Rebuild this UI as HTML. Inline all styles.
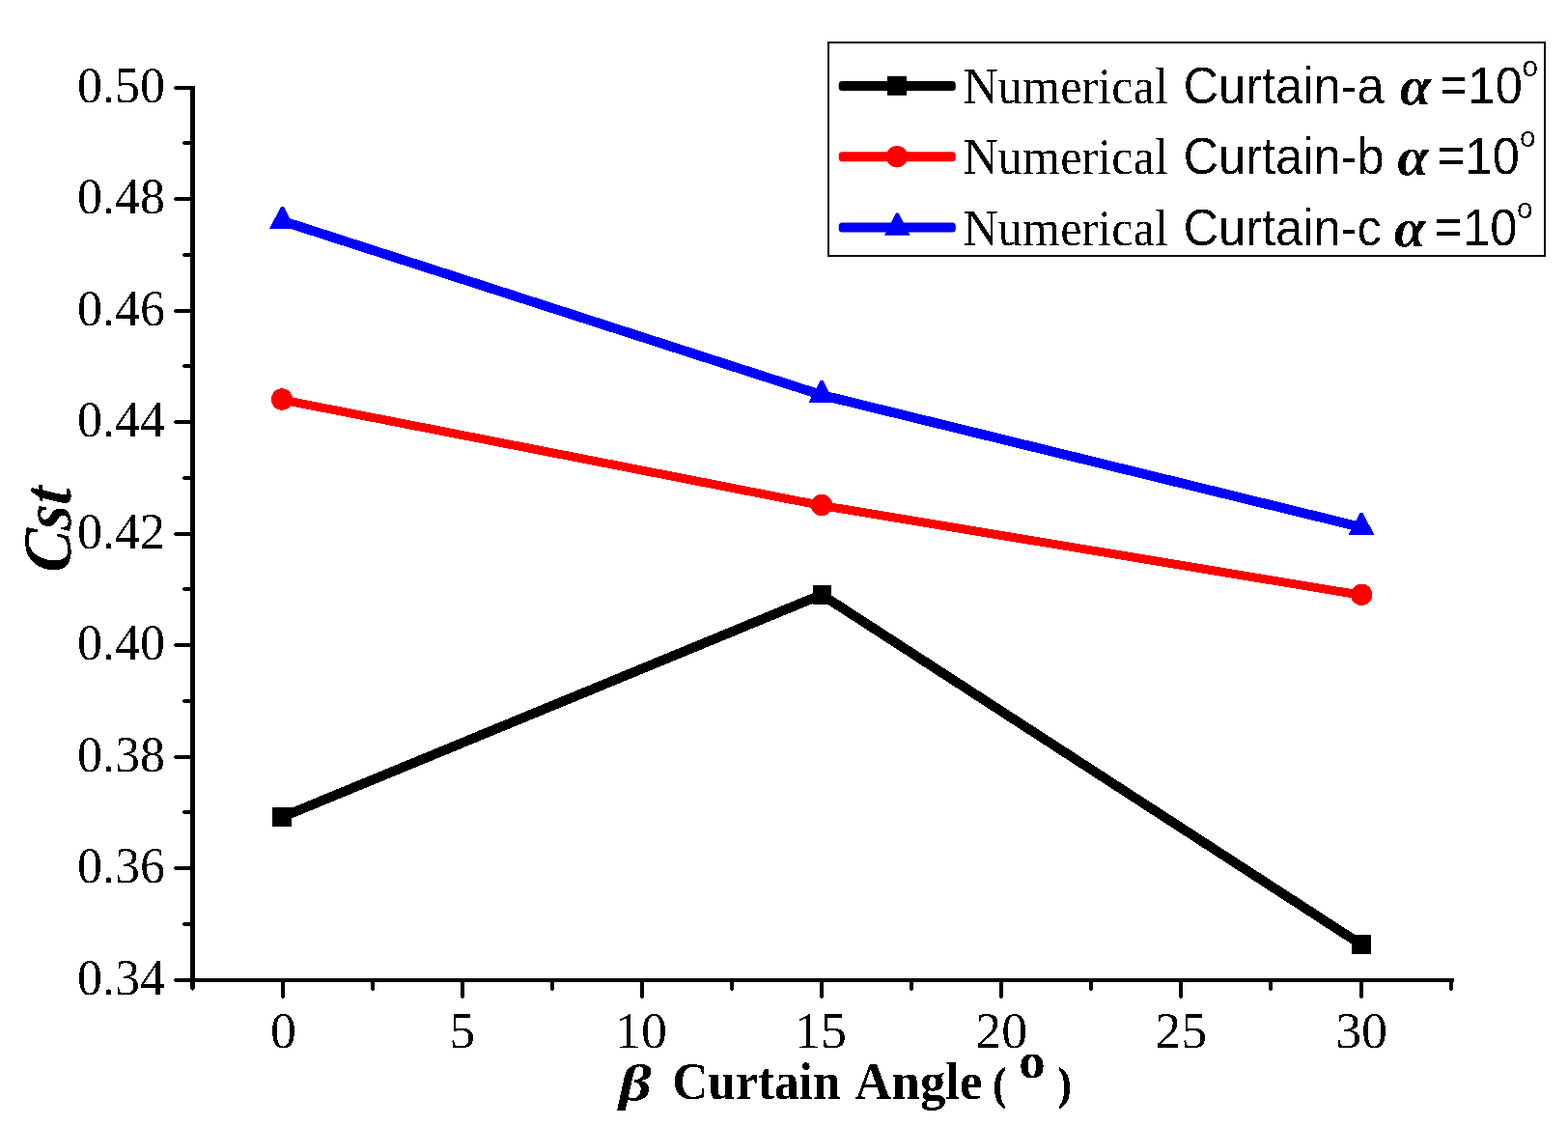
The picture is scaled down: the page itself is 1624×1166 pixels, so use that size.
<!DOCTYPE html>
<html lang="en"><head><meta charset="utf-8"><title>Cst vs Curtain Angle</title>
<style>
html,body{margin:0;padding:0;background:#fff;}
body{width:1624px;height:1166px;overflow:hidden;}
svg{display:block;}
text{fill:#000;}
.ser{font-family:"Liberation Serif","DejaVu Serif",serif;}
.san{font-family:"Liberation Sans","DejaVu Sans",sans-serif;}
</style></head><body>
<svg width="1624" height="1166" viewBox="0 0 1624 1166">
<defs><filter id="bi" filterUnits="userSpaceOnUse" x="0" y="0" width="1624" height="1166" color-interpolation-filters="sRGB"><feComponentTransfer><feFuncA type="discrete" tableValues="0 0 0 0 0 0 0 0 0 0 0 1 1 1 1 1 1 1 1 1"/></feComponentTransfer></filter></defs>
<rect x="0" y="0" width="1624" height="1166" fill="#fff"/>
<g fill="#000" shape-rendering="crispEdges">
<rect x="197" y="89" width="5" height="935"/>
<rect x="198" y="1024" width="3" height="1"/><rect x="199" y="1025" width="1" height="1"/>
<rect x="182" y="1013" width="1323.5" height="4"/>
<rect x="182" y="89" width="16" height="4"/>
<rect x="180" y="90" width="2" height="2"/><rect x="181" y="89" width="1" height="4"/>
<rect x="191" y="146" width="7" height="4"/>
<rect x="189" y="147" width="2" height="2"/><rect x="190" y="146" width="1" height="4"/>
<rect x="182" y="204" width="16" height="4"/>
<rect x="180" y="205" width="2" height="2"/><rect x="181" y="204" width="1" height="4"/>
<rect x="191" y="262" width="7" height="4"/>
<rect x="189" y="263" width="2" height="2"/><rect x="190" y="262" width="1" height="4"/>
<rect x="182" y="320" width="16" height="4"/>
<rect x="180" y="321" width="2" height="2"/><rect x="181" y="320" width="1" height="4"/>
<rect x="191" y="377" width="7" height="4"/>
<rect x="189" y="378" width="2" height="2"/><rect x="190" y="377" width="1" height="4"/>
<rect x="182" y="435" width="16" height="4"/>
<rect x="180" y="436" width="2" height="2"/><rect x="181" y="435" width="1" height="4"/>
<rect x="191" y="493" width="7" height="4"/>
<rect x="189" y="494" width="2" height="2"/><rect x="190" y="493" width="1" height="4"/>
<rect x="182" y="551" width="16" height="4"/>
<rect x="180" y="552" width="2" height="2"/><rect x="181" y="551" width="1" height="4"/>
<rect x="191" y="608" width="7" height="4"/>
<rect x="189" y="609" width="2" height="2"/><rect x="190" y="608" width="1" height="4"/>
<rect x="182" y="666" width="16" height="4"/>
<rect x="180" y="667" width="2" height="2"/><rect x="181" y="666" width="1" height="4"/>
<rect x="191" y="724" width="7" height="4"/>
<rect x="189" y="725" width="2" height="2"/><rect x="190" y="724" width="1" height="4"/>
<rect x="182" y="782" width="16" height="4"/>
<rect x="180" y="783" width="2" height="2"/><rect x="181" y="782" width="1" height="4"/>
<rect x="191" y="839" width="7" height="4"/>
<rect x="189" y="840" width="2" height="2"/><rect x="190" y="839" width="1" height="4"/>
<rect x="182" y="897" width="16" height="4"/>
<rect x="180" y="898" width="2" height="2"/><rect x="181" y="897" width="1" height="4"/>
<rect x="191" y="955" width="7" height="4"/>
<rect x="189" y="956" width="2" height="2"/><rect x="190" y="955" width="1" height="4"/>
<rect x="180" y="1014" width="2" height="2"/><rect x="181" y="1013" width="1" height="4"/>
<rect x="291" y="1015" width="4" height="17"/>
<rect x="291" y="1032" width="4" height="1"/><rect x="292" y="1033" width="2" height="1"/>
<rect x="384" y="1015" width="4" height="9"/>
<rect x="384" y="1024" width="4" height="1"/><rect x="385" y="1025" width="2" height="1"/>
<rect x="477" y="1015" width="4" height="17"/>
<rect x="477" y="1032" width="4" height="1"/><rect x="478" y="1033" width="2" height="1"/>
<rect x="570" y="1015" width="4" height="9"/>
<rect x="570" y="1024" width="4" height="1"/><rect x="571" y="1025" width="2" height="1"/>
<rect x="663" y="1015" width="4" height="17"/>
<rect x="663" y="1032" width="4" height="1"/><rect x="664" y="1033" width="2" height="1"/>
<rect x="756" y="1015" width="4" height="9"/>
<rect x="756" y="1024" width="4" height="1"/><rect x="757" y="1025" width="2" height="1"/>
<rect x="849" y="1015" width="4" height="17"/>
<rect x="849" y="1032" width="4" height="1"/><rect x="850" y="1033" width="2" height="1"/>
<rect x="942" y="1015" width="4" height="9"/>
<rect x="942" y="1024" width="4" height="1"/><rect x="943" y="1025" width="2" height="1"/>
<rect x="1035" y="1015" width="4" height="17"/>
<rect x="1035" y="1032" width="4" height="1"/><rect x="1036" y="1033" width="2" height="1"/>
<rect x="1128" y="1015" width="4" height="9"/>
<rect x="1128" y="1024" width="4" height="1"/><rect x="1129" y="1025" width="2" height="1"/>
<rect x="1221" y="1015" width="4" height="17"/>
<rect x="1221" y="1032" width="4" height="1"/><rect x="1222" y="1033" width="2" height="1"/>
<rect x="1314" y="1015" width="4" height="9"/>
<rect x="1314" y="1024" width="4" height="1"/><rect x="1315" y="1025" width="2" height="1"/>
<rect x="1408" y="1015" width="4" height="17"/>
<rect x="1408" y="1032" width="4" height="1"/><rect x="1409" y="1033" width="2" height="1"/>
<rect x="1501" y="1015" width="4" height="9"/>
<rect x="1501" y="1024" width="4" height="1"/><rect x="1502" y="1025" width="2" height="1"/>
</g>
<g shape-rendering="crispEdges">
<polyline points="292.0,846.2 851.0,615.8 1410.0,978.2" fill="none" stroke="#000000" stroke-width="10" stroke-linejoin="miter"/>
<rect x="282.0" y="836.0" width="20" height="20" fill="#000000"/>
<rect x="842.0" y="605.6" width="19" height="20" fill="#000000"/>
<rect x="1400.0" y="968.0" width="20" height="20" fill="#000000"/>
<polyline points="292.0,414.0 851.0,523.5 1410.0,616.3" fill="none" stroke="#ff0000" stroke-width="9" stroke-linejoin="miter"/>
<circle cx="292.0" cy="413.5" r="11.2" fill="#ff0000"/>
<circle cx="851.0" cy="523.0" r="11.2" fill="#ff0000"/>
<circle cx="1410.1" cy="615.8" r="11.2" fill="#ff0000"/>
<polyline points="292.5,228.9 851.0,409.1 1410.0,546.0" fill="none" stroke="#0000ff" stroke-width="10" stroke-linejoin="miter"/>
<polygon points="291.2,213.7 293.8,213.7 305.9,236.9 279.1,236.9" fill="#0000ff"/>
<polygon points="849.7,393.7 852.3,393.7 864.4,416.9 837.6,416.9" fill="#0000ff"/>
<polygon points="1408.7,530.6 1411.3,530.6 1423.4,553.8 1396.6,553.8" fill="#0000ff"/>
</g>
<rect x="858" y="44" width="741.5" height="220.5" fill="#fff" stroke="#000" stroke-width="2" shape-rendering="crispEdges"/>
<rect x="868.7" y="84.00" width="121.1" height="10" rx="3.5" ry="3.5" fill="#000000"/>
<rect x="919.0" y="78.8" width="20" height="20" fill="#000000"/>
<rect x="868.7" y="157.30" width="121.1" height="10" rx="3.5" ry="3.5" fill="#ff0000"/>
<circle cx="929.0" cy="162.1" r="11.2" fill="#ff0000"/>
<rect x="868.7" y="230.50" width="121.1" height="10" rx="3.5" ry="3.5" fill="#0000ff"/>
<polygon points="928.0,220.5 930.6,220.5 942.7,243.7 915.9,243.7" fill="#0000ff"/>
<g filter="url(#bi)">
<text class="ser" transform="translate(79.92,106) scale(0.9943,1)" font-size="52.40">0.50</text>
<text class="ser" transform="translate(79.92,221) scale(0.9943,1)" font-size="52.40">0.48</text>
<text class="ser" transform="translate(79.92,337) scale(0.9943,1)" font-size="52.40">0.46</text>
<text class="ser" transform="translate(79.92,452) scale(0.9943,1)" font-size="52.40">0.44</text>
<text class="ser" transform="translate(79.92,568) scale(0.9943,1)" font-size="52.40">0.42</text>
<text class="ser" transform="translate(79.92,683) scale(0.9943,1)" font-size="52.40">0.40</text>
<text class="ser" transform="translate(79.92,799) scale(0.9943,1)" font-size="52.40">0.38</text>
<text class="ser" transform="translate(79.92,914) scale(0.9943,1)" font-size="52.40">0.36</text>
<text class="ser" transform="translate(79.92,1030) scale(0.9943,1)" font-size="52.40">0.34</text>
<text class="ser" transform="translate(279.90,1085) scale(1.0305,1)" font-size="52.40">0</text>
<text class="ser" transform="translate(465.36,1085) scale(1.0305,1)" font-size="52.40">5</text>
<text class="ser" transform="translate(637.05,1085) scale(1.0305,1)" font-size="52.40">10</text>
<text class="ser" transform="translate(823.05,1085) scale(1.0305,1)" font-size="52.40">15</text>
<text class="ser" transform="translate(1010.27,1085) scale(1.0305,1)" font-size="52.40">20</text>
<text class="ser" transform="translate(1196.27,1085) scale(1.0305,1)" font-size="52.40">25</text>
<text class="ser" transform="translate(1383.13,1085) scale(1.0305,1)" font-size="52.40">30</text>
<text class="ser" transform="translate(997.49,107) scale(0.9685,1)" font-size="52.00">Numerical</text>
<text class="san" transform="translate(1225.47,107) scale(0.9493,1)" font-size="53.30">Curtain-a</text>
<text class="ser" transform="translate(1449.72,108) scale(1.0389,1)" font-size="56.50" font-weight="bold" font-style="italic">α</text>
<text class="san" transform="translate(1491.82,106) scale(0.9049,1)" font-size="51.50" stroke="#000" stroke-width="1.1">=</text>
<text class="san" transform="translate(1520.61,107) scale(0.9602,1)" font-size="52.70">10</text>
<text class="san" transform="translate(1576.56,79) scale(1.0171,1)" font-size="29.30">o</text>
<text class="ser" transform="translate(997.49,180) scale(0.9685,1)" font-size="52.00">Numerical</text>
<text class="san" transform="translate(1225.47,180) scale(0.9493,1)" font-size="53.30">Curtain-b</text>
<text class="ser" transform="translate(1447.22,181) scale(1.0389,1)" font-size="56.50" font-weight="bold" font-style="italic">α</text>
<text class="san" transform="translate(1489.57,179) scale(0.9049,1)" font-size="51.50" stroke="#000" stroke-width="1.1">=</text>
<text class="san" transform="translate(1517.51,180) scale(0.9602,1)" font-size="52.70">10</text>
<text class="san" transform="translate(1574.06,152) scale(1.0171,1)" font-size="29.30">o</text>
<text class="ser" transform="translate(997.49,254) scale(0.9685,1)" font-size="52.00">Numerical</text>
<text class="san" transform="translate(1225.47,254) scale(0.9493,1)" font-size="53.30">Curtain-c</text>
<text class="ser" transform="translate(1444.12,255) scale(1.0389,1)" font-size="56.50" font-weight="bold" font-style="italic">α</text>
<text class="san" transform="translate(1486.57,253) scale(0.9049,1)" font-size="51.50" stroke="#000" stroke-width="1.1">=</text>
<text class="san" transform="translate(1515.01,254) scale(0.9602,1)" font-size="52.70">10</text>
<text class="san" transform="translate(1571.06,226) scale(1.0171,1)" font-size="29.30">o</text>
<text class="ser" transform="translate(640.89,1139) scale(1.2403,1)" font-size="53.50" font-weight="bold" font-style="italic">β</text>
<text class="ser" transform="translate(696.23,1138) scale(0.9454,1)" font-size="54.40" font-weight="bold">Curtain</text>
<text class="ser" transform="translate(885.37,1138) scale(0.9721,1)" font-size="54.40" font-weight="bold">Angle</text>
<text class="ser" transform="translate(1028.74,1138) scale(0.8525,1)" font-size="46.00" font-weight="bold" stroke="#000" stroke-width="1.1">(</text>
<text class="ser" transform="translate(1055.30,1116) scale(1.0536,1)" font-size="52.20" font-weight="bold">o</text>
<text class="ser" transform="translate(1096.22,1138) scale(0.8528,1)" font-size="46.00" font-weight="bold" stroke="#000" stroke-width="1.1">)</text>
<text class="ser" transform="translate(73.48,593.93) rotate(-90) scale(0.9223,1) skewX(-4)" font-size="72.09" font-weight="bold" font-style="italic">Cst</text>
</g>
</svg></body></html>
